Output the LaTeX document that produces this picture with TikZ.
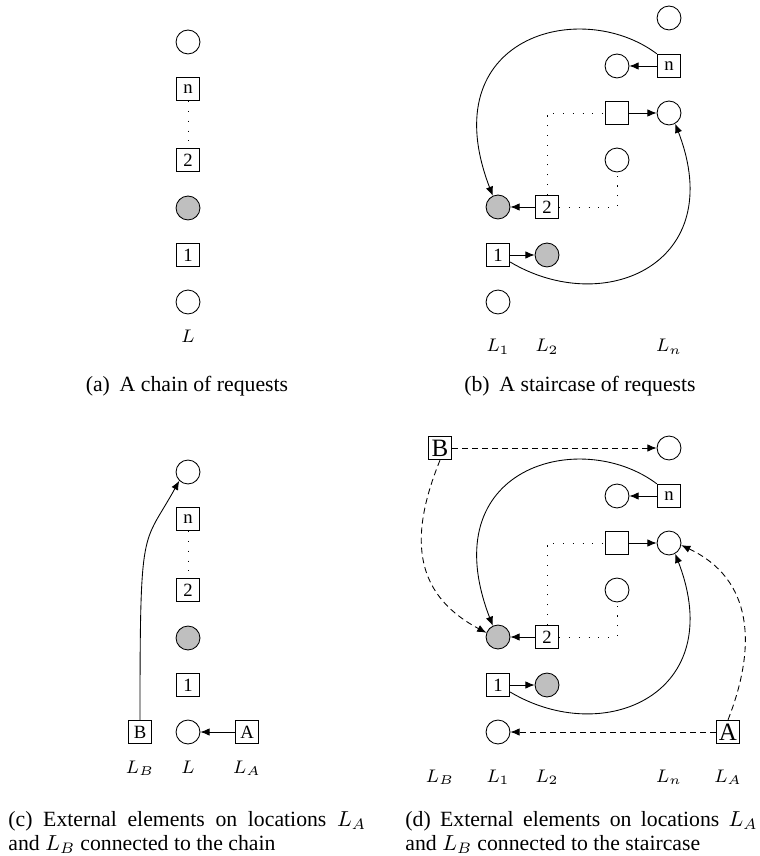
\documentclass[tikz,border=0pt]{standalone}
\usepackage{fix-cm}
\usepackage{fontspec}
\setmainfont{Liberation Serif}
\usetikzlibrary{arrows.meta}

\begin{document}
\begin{tikzpicture}[x=0.46pt, y=-0.46pt,
        >={Latex[length=4.2pt,width=3.4pt]},
        loc/.style={draw, circle, minimum size=11pt, inner sep=0pt},
        busy/.style={loc, fill=gray!50},
        req/.style={draw, rectangle, minimum size=10.8pt, inner sep=0pt, font=\fontsize{8.6}{10}\selectfont},
        ext/.style={req, font=\fontsize{11.5}{12}\selectfont},
        lbl/.style={anchor=base, font=\fontsize{8.4}{10}\selectfont},
        dotline/.style={dash pattern=on 0.5pt off 4pt},
        link/.style={dash pattern=on 2.8pt off 1.8pt},
        subcap/.style={anchor=base, inner sep=0pt, font=\fontsize{10}{10.5}\selectfont},
        capbox/.style={anchor=north west, inner sep=0pt, align=justify, font=\fontsize{10}{10.8}\selectfont}]
            \useasboundingbox (0,0) rectangle (759,856);

            \node[loc] (atop) at (188,42) {};
            \node[req] (an) at (188,89) {n};
            \node[req] (atwo) at (188,160) {2};
            \node[busy] (abusy) at (188,208) {};
            \node[req] (aone) at (188,255) {1};
            \node[loc] (abot) at (188,302) {};
            \node[lbl] (alab) at (188,343) {$L$};
            \node[subcap] (acap) at (187,392) {(a)\hspace{0.45em}A chain of requests};

            \draw[dotline] (an) -- (atwo);

            \node[loc] (btop) at (669,18) {};
            \node[loc] (bnl) at (617,66) {};
            \node[req] (bn) at (669,66) {n};
            \node[req] (bm) at (617,113) {};
            \node[loc] (bmr) at (669,113) {};
            \node[loc] (bmd) at (617,160) {};
            \node[busy] (bbusy) at (498,207) {};
            \node[req] (btwo) at (547,207) {2};
            \node[req] (bone) at (498,255) {1};
            \node[busy] (bbusyr) at (547,255) {};
            \node[loc] (bbot) at (498,302) {};
            \node[lbl] (blone) at (498,352) {$L_1$};
            \node[lbl] (bltwo) at (547,352) {$L_2$};
            \node[lbl] (bln) at (669,352) {$L_n$};
            \node[subcap] (bcap) at (580,392) {(b)\hspace{0.45em}A staircase of requests};

            \draw[->] (bn) -- (bnl);
            \draw[->] (bm) -- (bmr);
            \draw[->] (btwo) -- (bbusy);
            \draw[->] (bone) -- (bbusyr);
            \draw[dotline] (btwo) |- (bm);
            \draw[dotline] (btwo) -| (bmd);
            \draw[->] (bn.north west) .. controls +(-76,-57) and +(-61,-159) .. (bbusy.115);
            \draw[->] (bone.-30) .. controls +(94,56) and +(54,140) .. (bmr.-60);

            \node[loc] (ctop) at (188,472) {};
            \node[req] (cn) at (188,519) {n};
            \node[req] (ctwo) at (188,590) {2};
            \node[busy] (cbusy) at (188,638) {};
            \node[req] (cone) at (188,685) {1};
            \node[loc] (cbot) at (188,732) {};
            \node[req] (cb) at (140,732) {B};
            \node[req] (ca) at (247,732) {A};
            \node[lbl] (clb) at (140,773) {$L_B$};
            \node[lbl] (cl) at (188,773) {$L$};
            \node[lbl] (cla) at (247,773) {$L_A$};
            \node[capbox, text width=164.5pt] (ccap) at (8,811) {(c) External elements on locations $L_A$\linebreak and $L_B$ connected to the chain};

            \draw[dotline] (cn) -- (ctwo);
            \draw[->] (ca) -- (cbot);
            \draw[->] (cb.north) .. controls +(0,-200) and +(-37,67) .. (ctop.225);

            \node[loc] (dtop) at (669,448) {};
            \node[ext] (db) at (440,448) {B};
            \node[loc] (dnl) at (617,496) {};
            \node[req] (dn) at (669,496) {n};
            \node[req] (dm) at (617,543) {};
            \node[loc] (dmr) at (669,543) {};
            \node[loc] (dmd) at (617,590) {};
            \node[busy] (dbusy) at (498,637) {};
            \node[req] (dtwo) at (547,637) {2};
            \node[req] (done) at (498,685) {1};
            \node[busy] (dbusyr) at (547,685) {};
            \node[loc] (dbot) at (498,732) {};
            \node[ext] (da) at (728,732) {A};
            \node[lbl] (dlb) at (440,782) {$L_B$};
            \node[lbl] (dlone) at (498,782) {$L_1$};
            \node[lbl] (dltwo) at (547,782) {$L_2$};
            \node[lbl] (dln) at (669,782) {$L_n$};
            \node[lbl] (dla) at (728,782) {$L_A$};
            \node[capbox, text width=162pt] (dcap) at (405,811) {(d) External elements on locations $L_A$\linebreak and $L_B$ connected to the staircase};

            \draw[->] (dn) -- (dnl);
            \draw[->] (dm) -- (dmr);
            \draw[->] (dtwo) -- (dbusy);
            \draw[->] (done) -- (dbusyr);
            \draw[dotline] (dtwo) |- (dm);
            \draw[dotline] (dtwo) -| (dmd);
            \draw[->] (dn.north west) .. controls +(-76,-57) and +(-61,-159) .. (dbusy.115);
            \draw[->] (done.-30) .. controls +(94,56) and +(54,140) .. (dmr.-60);
            \draw[->, link] (db) -- (dtop);
            \draw[->, link] (db.south) .. controls +(-30,74) and +(-75,-40) .. (dbusy.160);
            \draw[->, link] (da) -- (dbot);
            \draw[->, link] (da.north) .. controls +(29,-74) and +(72,34) .. (dmr.-10);
        \end{tikzpicture}
\end{document}
